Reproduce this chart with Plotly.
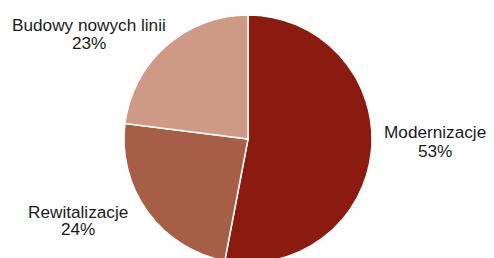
import plotly.graph_objects as go

categories = ["Modernizacje", "Rewitalizacje", "Budowy nowych linii"]
shares = [53, 24, 23]
colors = ["#8A1B0E", "#A65E46", "#CE9A86"]

OFF = 8  # page body margin of the browser
W, H = 494 - OFF, 258
cx, cy, r = 248 - OFF, 139 - OFF, 124

def px_x(x):
    return x / W

def px_y(y):
    return 1 - y / H

fig = go.Figure(go.Pie(
    labels=categories,
    values=shares,
    sort=False,
    direction="clockwise",
    rotation=0,
    marker=dict(colors=colors, line=dict(color="white", width=1.5)),
    textinfo="none",
    hoverinfo="label+percent",
    domain=dict(x=[px_x(cx - r), px_x(cx + r)], y=[px_y(cy + r), px_y(cy - r)]),
    showlegend=False,
))

# label positions (pixel centres / baselines in the screenshot)
label_pos = {
    "Modernizacje": (435, 137, 155.5),
    "Rewitalizacje": (78.3, 216.5, 234),
    "Budowy nowych linii": (89.2, 29.5, 48),
}
font = dict(family="Liberation Sans, Arial, sans-serif", size=17.2, color="#1a1a1a")
annotations = []
for cat, val in zip(categories, shares):
    x, b1, b2 = label_pos[cat]
    for txt, base in ((cat, b1), (f"{val}%", b2)):
        annotations.append(dict(
            text=txt, x=px_x(x - OFF), y=px_y(base - 5 - OFF), xref="paper", yref="paper",
            xanchor="center", yanchor="middle", showarrow=False, font=font,
        ))

fig.update_layout(
    width=W, height=H,
    margin=dict(l=0, r=0, t=0, b=0),
    paper_bgcolor="white", plot_bgcolor="white",
    annotations=annotations,
)

fig.write_html("out.html")
